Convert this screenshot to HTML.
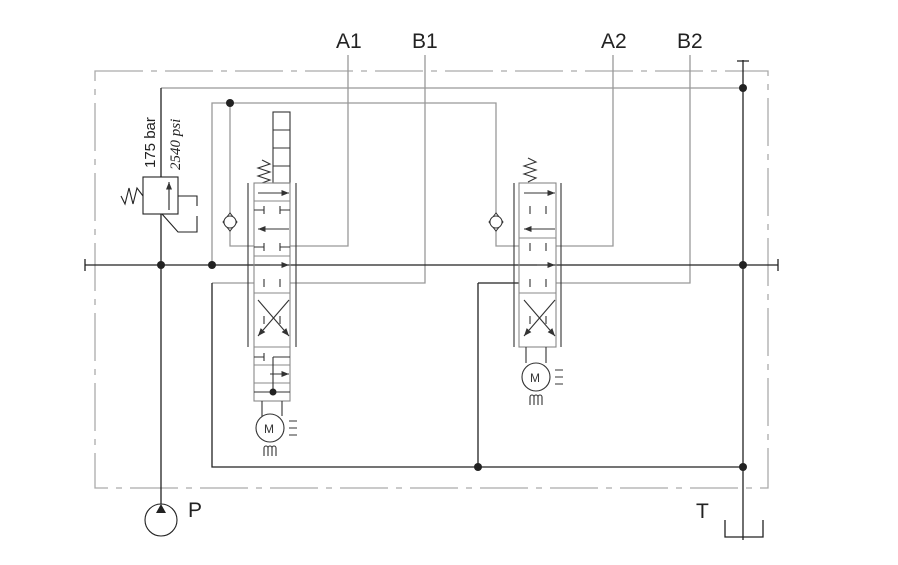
<!DOCTYPE html>
<html><head><style>body{margin:0;background:#fff}svg{display:block}</style></head><body>
<svg width="898" height="565" viewBox="0 0 898 565" xmlns="http://www.w3.org/2000/svg" font-family="Liberation Sans, sans-serif">
<defs><marker id="ar" viewBox="0 0 10 10" refX="10" refY="5" markerWidth="7" markerHeight="7" orient="auto"><path d="M0,1L10,5L0,9z" fill="#333"/></marker></defs>
<g fill="none" stroke-width="1.3">
<rect x="95" y="71" width="673" height="417" stroke="#aaa" stroke-dasharray="48,8,6,8"/>
<g stroke="#999">
<path d="M161 88H743"/>
<path d="M212 265V103H496V214M496 230V246H519"/>
<path d="M230 103V214M230 230V246H254"/>
<path d="M348 55V246H290"/>
<path d="M613 55V246H556"/>
<path d="M212 283H254M290 283H425V55"/>
<path d="M556 283H690V55"/>
</g>
<g stroke="#222">
<path d="M85 265H778M85 259V271M778 259V271"/>
<path d="M212 283V467H743M478 283H519M478 283V467"/>
<path d="M743 60V540M737 61H749"/>
<path d="M725 520V537H763V520"/>
<path d="M161 88V505"/>
</g>
</g>
<g fill="#222"><circle cx="161" cy="265" r="4"/><circle cx="212" cy="265" r="4"/><circle cx="743" cy="265" r="4"/><circle cx="230" cy="103" r="4"/><circle cx="743" cy="88" r="4"/><circle cx="478" cy="467" r="4"/><circle cx="743" cy="467" r="4"/></g>
<g fill="#fff" stroke="#333" stroke-width="1"><path d="M230 213L223 222L230 231L237 222Z"/><path d="M496 213L489 222L496 231L503 222Z"/><circle cx="230" cy="222" r="6"/><circle cx="496" cy="222" r="6"/></g>
<g fill="none" stroke="#222" stroke-width="1.1">
<rect x="143" y="177" width="35" height="37" fill="#fff"/>
<path d="M169 210V182" marker-end="url(#ar)"/>
<path d="M143 196L137 188L133 204L129 188L125 204L121 196"/>
<path d="M178 196H197V206M197 216V232H178L162 214"/>
</g>
<text x="0" y="0" font-size="15" transform="translate(155,168) rotate(-90)" fill="#222">175 bar</text>
<text x="0" y="0" font-size="15" font-style="italic" font-family="Liberation Serif, serif" transform="translate(180,170) rotate(-90)" fill="#222">2540 psi</text>
<g fill="none" stroke="#333" stroke-width="1.1">
<path d="M248 183V347M296 183V347"/>
<rect x="273" y="112" width="17" height="71"/><path d="M273 130H290M273 148H290M273 166H290"/>
<path d="M262 160L270 164L258 168L270 172L258 176L270 180L262 183"/>
<rect x="254" y="183" width="36" height="218" stroke="#888"/>
<path d="M254 201H290M254 256H290M254 293H290M254 347H290M254 365H290M254 383H290M254 401H290" stroke="#888"/>
<path d="M258 193H289" marker-end="url(#ar)"/>
<path d="M289 229H258" marker-end="url(#ar)"/>
<path d="M270 265H289" marker-end="url(#ar)"/>
<path d="M270 374H289" marker-end="url(#ar)"/>
<path d="M289 300L258 336" marker-end="url(#ar)"/><path d="M258 300L289 336" marker-end="url(#ar)"/>
<path d="M264 206V214M264 210H254M280 206V214M280 210H290M264 243V251M264 247H254M280 243V251M280 247H290M264 279V287M280 279V287M264 316V324M280 316V324M264 353V361M264 357H254M273 357H290M273 357V392"/>
<path d="M254 392H290M262 401V416M282 401V416"/>
<circle cx="270" cy="428" r="14" fill="#fff"/>
<path d="M264 456V448a2 2 0 0 1 4 0v8M268 448a2 2 0 0 1 4 0v8M272 448a2 2 0 0 1 4 0v8M289 421h8M289 428h8M289 435h8"/>
</g>
<circle cx="273" cy="392" r="3.5" fill="#222"/>
<text x="264" y="433" font-size="12" fill="#333">M</text>
<g fill="none" stroke="#333" stroke-width="1.1">
<path d="M514 183V347M561 183V347"/>
<path d="M528 182L536 178L524 174L536 170L524 166L536 162L528 158"/>
<rect x="519" y="183" width="37" height="164" stroke="#888"/>
<path d="M519 238H556M519 293H556" stroke="#888"/>
<path d="M524 193H555" marker-end="url(#ar)"/>
<path d="M555 229H524" marker-end="url(#ar)"/>
<path d="M537 265H555" marker-end="url(#ar)"/>
<path d="M555 300L524 336" marker-end="url(#ar)"/><path d="M524 300L555 336" marker-end="url(#ar)"/>
<path d="M530 206V214M546 206V214M530 243V251M546 243V251M530 279V287M546 279V287M530 316V324M546 316V324"/>
<path d="M526 347V363M546 347V363"/>
<circle cx="536" cy="377" r="14" fill="#fff"/>
<path d="M530 405V397a2 2 0 0 1 4 0v8M534 397a2 2 0 0 1 4 0v8M538 397a2 2 0 0 1 4 0v8M555 370h8M555 377h8M555 384h8"/>
</g>
<text x="530" y="382" font-size="12" fill="#333">M</text>
<circle cx="161" cy="520" r="16" fill="#fff" stroke="#222" stroke-width="1.1"/>
<path d="M161 504L156 513H166Z" fill="#222"/>
<g font-size="21" fill="#222">
<text x="336" y="48">A1</text><text x="412" y="48">B1</text><text x="601" y="48">A2</text><text x="677" y="48">B2</text>
<text x="188" y="517">P</text><text x="696" y="518">T</text>
</g>
</svg>
</body></html>
